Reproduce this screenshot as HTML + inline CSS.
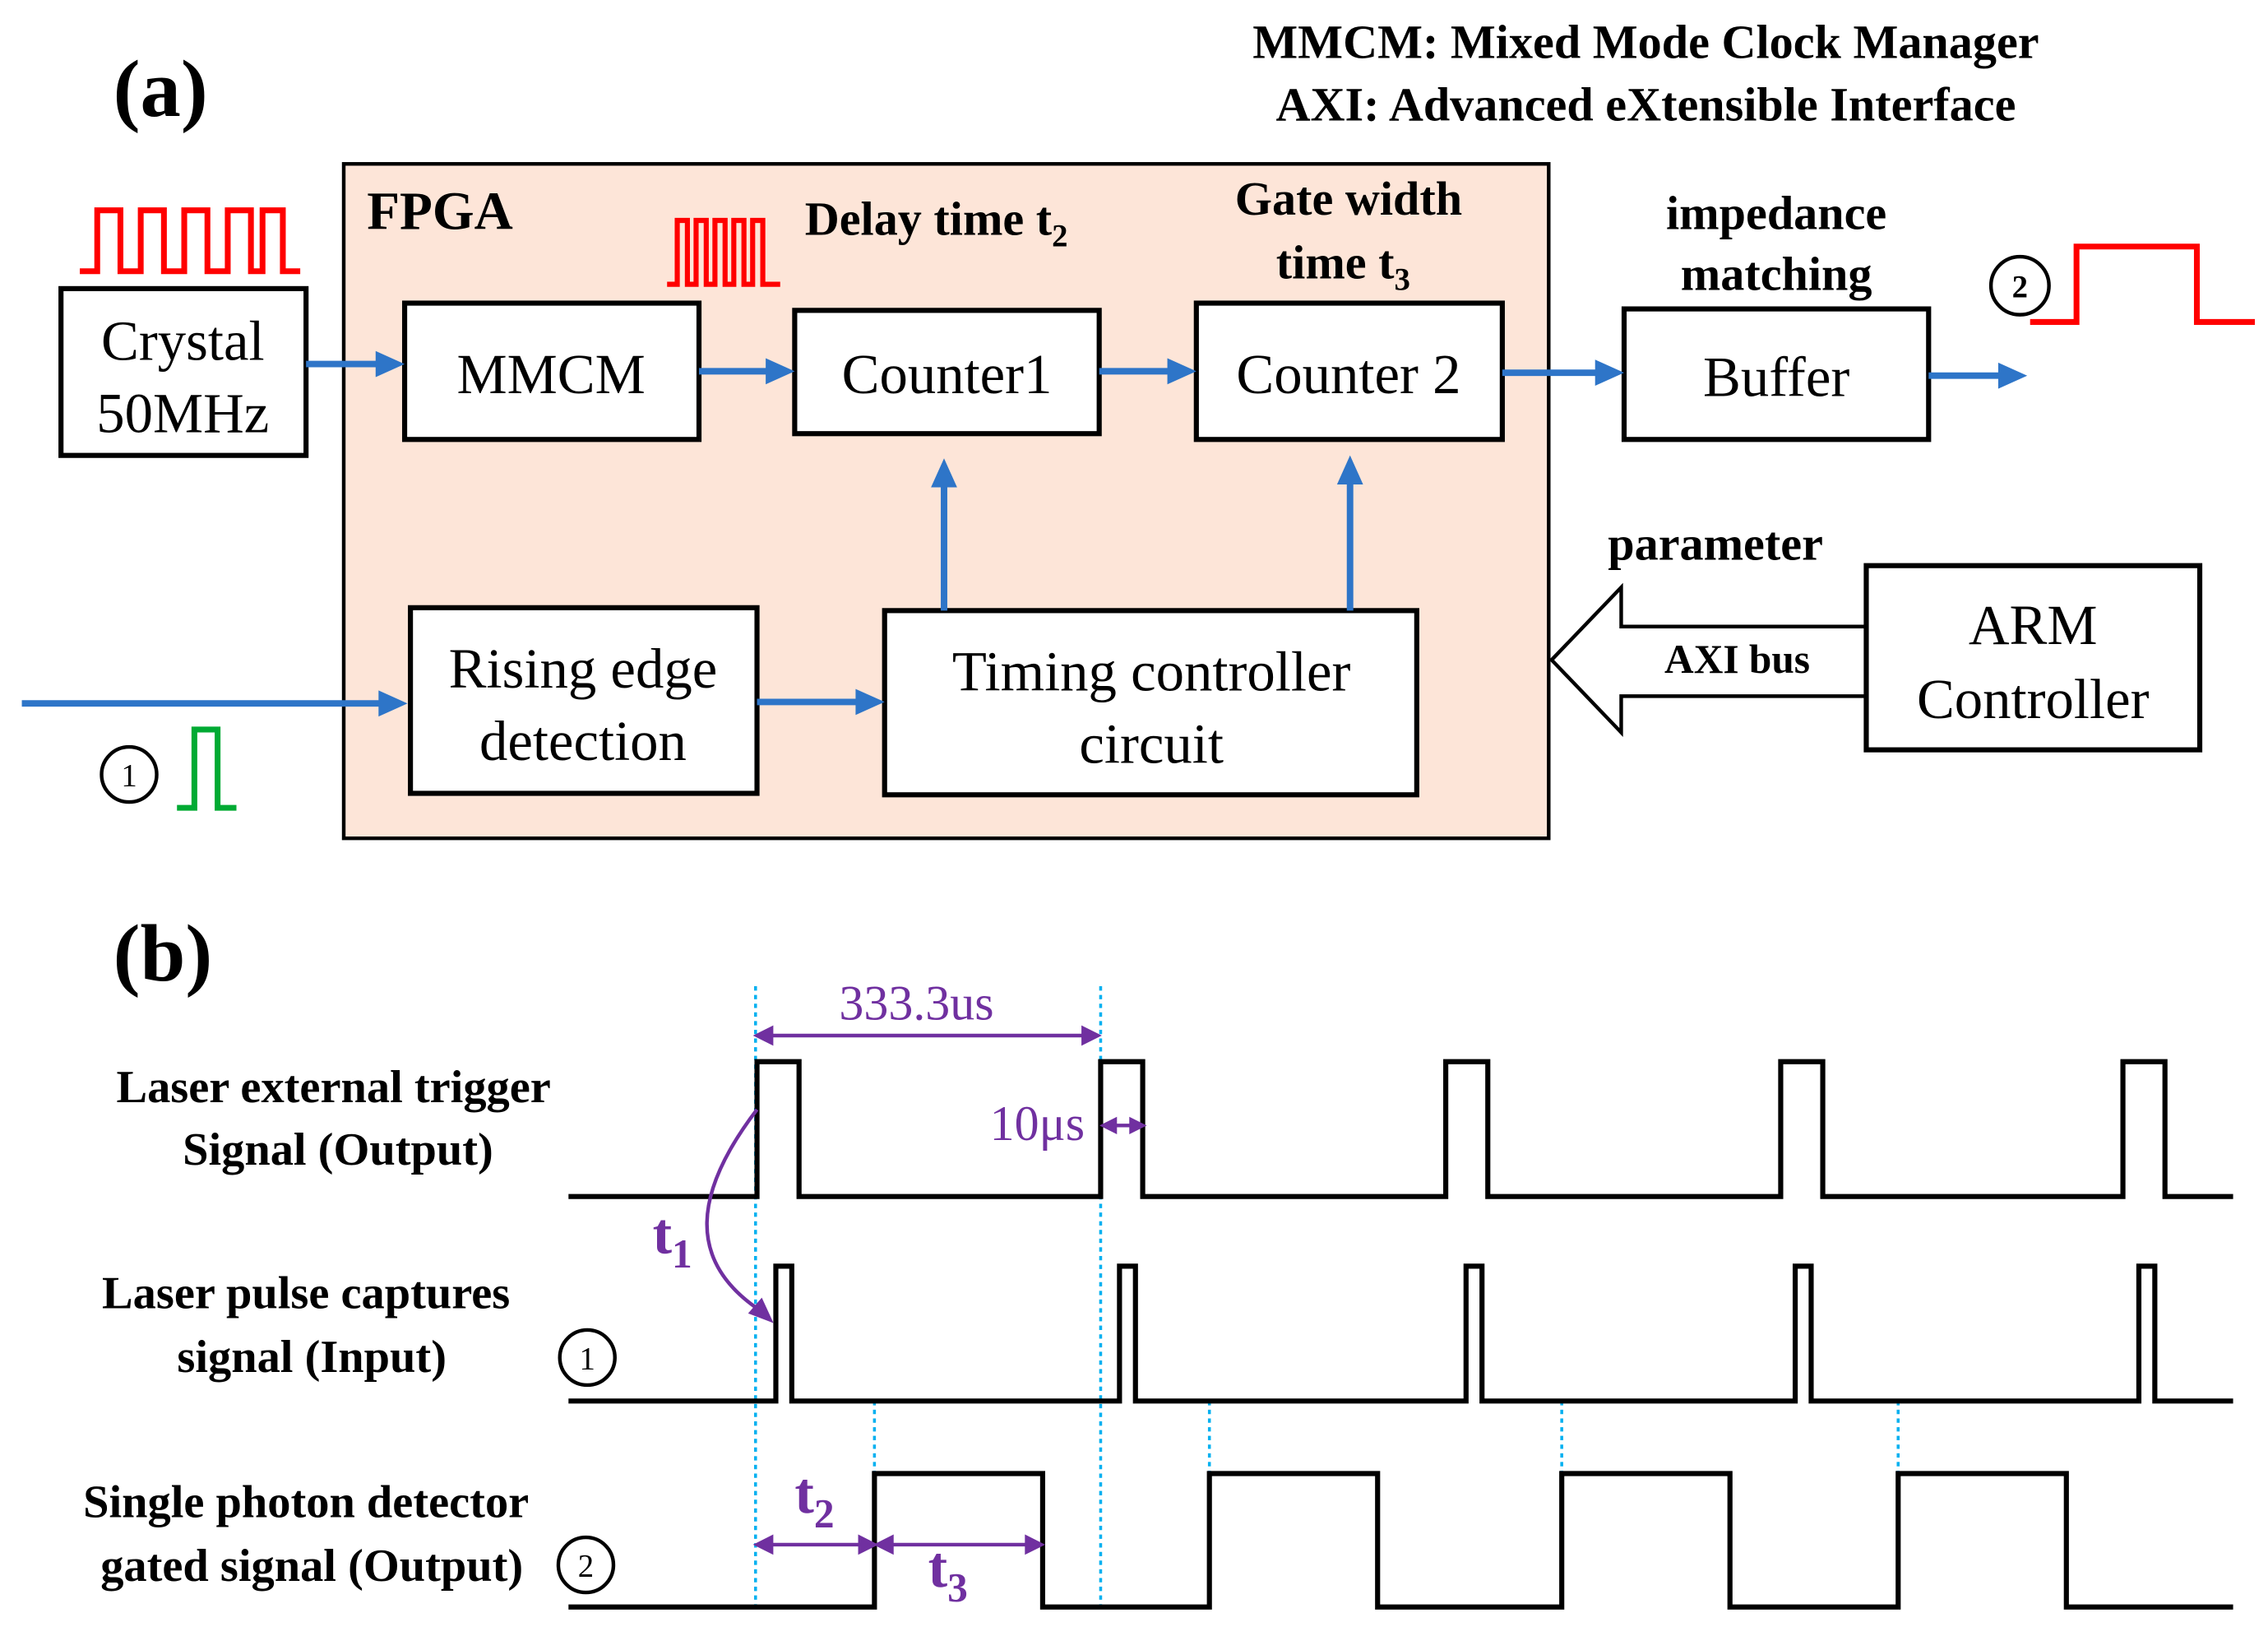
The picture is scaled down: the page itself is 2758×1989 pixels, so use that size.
<!DOCTYPE html>
<html><head><style>html,body{margin:0;padding:0;background:#fff}svg{display:block}svg text{font-family:"Liberation Serif","Times New Roman",serif}</style></head>
<body>
<svg width="2758" height="1989" viewBox="0 0 1564 1128" xmlns="http://www.w3.org/2000/svg">
<rect width="1564" height="1128" fill="#fff"/>
<text x="78" y="80" font-size="56" font-weight="bold">(a)</text>
<text x="1135" y="40" font-size="33" font-weight="bold" text-anchor="middle">MMCM: Mixed Mode Clock Manager</text>
<text x="1135" y="83" font-size="33" font-weight="bold" text-anchor="middle">AXI: Advanced eXtensible Interface</text>

<rect x="237" y="113" width="831" height="465" fill="#fde5d8" stroke="#000" stroke-width="2.5"/>
<text x="253" y="158" font-size="37" font-weight="bold">FPGA</text>

<path d="M1287,432 H1118 V405 L1070,455 L1118,505 V480 H1287" fill="#fff" stroke="#000" stroke-width="2.5"/>

<g fill="#fff" stroke="#000" stroke-width="3.5">
<rect x="42" y="199" width="169" height="115"/>
<rect x="279" y="209" width="203" height="94"/>
<rect x="548" y="214" width="210" height="85"/>
<rect x="825" y="209" width="211" height="94"/>
<rect x="1120" y="213" width="210" height="90"/>
<rect x="283" y="419" width="239" height="128"/>
<rect x="610" y="421" width="367" height="127"/>
<rect x="1287" y="390" width="230" height="127"/>
</g>
<g font-size="39" text-anchor="middle">
<text x="126" y="248">Crystal</text><text x="126" y="298">50MHz</text>
<text x="380" y="271">MMCM</text>
<text x="653" y="271">Counter1</text>
<text x="930" y="271">Counter 2</text>
<text x="1225" y="273">Buffer</text>
<text x="402" y="474">Rising edge</text><text x="402" y="524">detection</text>
<text x="794" y="476">Timing controller</text><text x="794" y="526">circuit</text>
<text x="1402" y="444">ARM</text><text x="1402" y="495">Controller</text>
</g>
<g font-weight="bold" font-size="33">
<text x="555" y="162">Delay time t<tspan font-size="22" dy="8">2</tspan></text>
<text x="930" y="148" text-anchor="middle">Gate width</text>
<text x="880" y="192">time t<tspan font-size="22" dy="8">3</tspan></text>
<text x="1225" y="158" text-anchor="middle">impedance</text>
<text x="1225" y="200" text-anchor="middle">matching</text>
<text x="1183" y="386" text-anchor="middle">parameter</text>
<text x="1198" y="464" text-anchor="middle" font-size="28">AXI bus</text>
</g>

<path d="M55,187 H67 V145 H83 V187 H97 V145 H113 V187 H127 V145 H143 V187 H157 V145 H173 V187 H181 V145 H195 V187 H207" fill="none" stroke="#f00" stroke-width="4"/>
<path d="M460,196 H467 V152 H474 V196 H480 V152 H487 V196 H493 V152 H500 V196 H506 V152 H513 V196 H519 V152 H526 V196 H538" fill="none" stroke="#f00" stroke-width="3.5"/>
<path d="M1400,222 H1432 V170 H1515 V222 H1555" fill="none" stroke="#f00" stroke-width="4"/>
<path d="M122,557 H134 V503 H150 V557 H163" fill="none" stroke="#0a3" stroke-width="4"/>
<g fill="none" stroke="#000" stroke-width="2.5">
<circle cx="1393" cy="197" r="20"/><circle cx="89" cy="534" r="19"/>
</g>
<text x="1393" y="205" font-size="22" text-anchor="middle" font-weight="bold">2</text>
<text x="89" y="542" font-size="22" text-anchor="middle">1</text>

<g stroke="#2e75c8" stroke-width="4.5" fill="#2e75c8">
<line x1="211" y1="251" x2="262" y2="251"/><path d="M279,251 L259,242 L259,260Z" stroke="none"/>
<line x1="482" y1="256" x2="532" y2="256"/><path d="M548,256 L528,247 L528,265Z" stroke="none"/>
<line x1="758" y1="256" x2="809" y2="256"/><path d="M825,256 L805,247 L805,265Z" stroke="none"/>
<line x1="1036" y1="257" x2="1104" y2="257"/><path d="M1120,257 L1100,248 L1100,266Z" stroke="none"/>
<line x1="1330" y1="259" x2="1382" y2="259"/><path d="M1398,259 L1378,250 L1378,268Z" stroke="none"/>
<line x1="15" y1="485" x2="265" y2="485"/><path d="M281,485 L261,476 L261,494Z" stroke="none"/>
<line x1="522" y1="484" x2="594" y2="484"/><path d="M610,484 L590,475 L590,493Z" stroke="none"/>
<line x1="651" y1="421" x2="651" y2="334"/><path d="M651,316 L642,336 L660,336Z" stroke="none"/>
<line x1="931" y1="421" x2="931" y2="332"/><path d="M931,314 L922,334 L940,334Z" stroke="none"/>
</g>

<text x="78" y="676" font-size="56" font-weight="bold">(b)</text>
<g font-weight="bold" font-size="32" text-anchor="middle">
<text x="230" y="760">Laser external trigger</text>
<text x="233" y="803">Signal (Output)</text>
<text x="211" y="902">Laser pulse captures</text>
<text x="215" y="946">signal (Input)</text>
<text x="211" y="1046">Single photon detector</text>
<text x="215" y="1090">gated signal (Output)</text>
</g>
<g fill="none" stroke="#000" stroke-width="2.5">
<circle cx="405" cy="936" r="19"/><circle cx="404" cy="1079" r="19"/>
</g>
<text x="405" y="944" font-size="22" text-anchor="middle">1</text>
<text x="404" y="1087" font-size="22" text-anchor="middle">2</text>

<g stroke="#00b0f0" stroke-width="2" stroke-dasharray="3,3">
<line x1="521" y1="680" x2="521" y2="1108"/>
<line x1="759" y1="680" x2="759" y2="1108"/>
<line x1="603" y1="966" x2="603" y2="1108"/>
<line x1="834" y1="966" x2="834" y2="1108"/>
<line x1="1077" y1="966" x2="1077" y2="1108"/>
<line x1="1309" y1="966" x2="1309" y2="1108"/>
</g>
<g fill="none" stroke="#000" stroke-width="3.5">
<path d="M392,825 H522 V732 H551 V825 H759 V732 H788 V825 H997 V732 H1026 V825 H1228 V732 H1257 V825 H1464 V732 H1493 V825 H1540"/>
<path d="M392,966 H535 V873 H546 V966 H772 V873 H783 V966 H1011 V873 H1022 V966 H1238 V873 H1249 V966 H1475 V873 H1486 V966 H1540"/>
<path d="M392,1108 H603 V1016 H719 V1108 H834 V1016 H950 V1108 H1077 V1016 H1193 V1108 H1309 V1016 H1425 V1108 H1540"/>
</g>
<g stroke="#7030a0" fill="#7030a0" stroke-width="2.5">
<line x1="528" y1="714" x2="751" y2="714"/><path d="M522,714 L532,709 L532,719Z"/><path d="M757,714 L747,709 L747,719Z"/>
<line x1="766" y1="776" x2="783" y2="776"/><path d="M761,776 L769,772 L769,780Z"/><path d="M788,776 L780,772 L780,780Z"/>
<path d="M522,765 C480,820 470,870 528,906" fill="none"/><path d="M531,910 L518,905 L525,897Z"/>
<line x1="528" y1="1065" x2="597" y2="1065"/><path d="M522,1065 L532,1060 L532,1070Z"/><path d="M603,1065 L593,1060 L593,1070Z"/>
<line x1="611" y1="1065" x2="712" y2="1065"/><path d="M605,1065 L615,1060 L615,1070Z"/><path d="M718,1065 L708,1060 L708,1070Z"/>
</g>
<g fill="#7030a0" font-size="34">
<text x="632" y="703" text-anchor="middle">333.3us</text>
<text x="748" y="786" text-anchor="end">10μs</text>
<text x="450" y="864" font-weight="bold" font-size="40">t<tspan font-size="28" dy="10">1</tspan></text>
<text x="548" y="1043" font-weight="bold" font-size="40">t<tspan font-size="28" dy="10">2</tspan></text>
<text x="640" y="1094" font-weight="bold" font-size="40">t<tspan font-size="28" dy="10">3</tspan></text>
</g>
</svg>
</body></html>
